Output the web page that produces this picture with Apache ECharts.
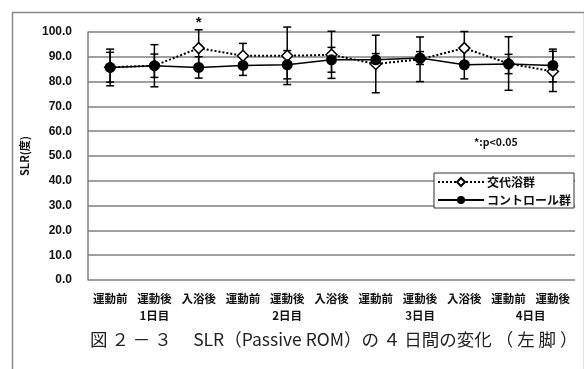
<!DOCTYPE html>
<html>
<head>
<meta charset="utf-8">
<script src="https://cdn.jsdelivr.net/npm/echarts@6/dist/echarts.min.js"></script>
<style>
  html, body { margin: 0; padding: 0; background: #fff; }
  #main { width: 584px; height: 369px; }
</style>
</head>
<body>
<div id="main"></div>
<script>
// データ
const categories = ['運動前', '運動後', '入浴後', '運動前', '運動後', '入浴後', '運動前', '運動後', '入浴後', '運動前', '運動後']
const dayLabels = ['1日目', '2日目', '3日目', '4日目']
const dayPositions = [1, 4, 7, 9.5]
const bathMean = [85.8, 86.4, 93.5, 90.4, 90.4, 90.8, 87.1, 89.0, 93.5, 87.3, 84.1]
const bathSd = [6.0, 4.7, 7.4, 5.0, 11.6, 9.5, 11.6, 9.0, 6.7, 10.8, 8.1]
const ctrlMean = [85.7, 86.4, 85.7, 86.5, 86.8, 88.8, 88.8, 89.5, 86.8, 87.1, 86.5]
const ctrlSd = [7.4, 8.5, 4.3, 4.0, 5.7, 5.0, 2.5, 2.6, 5.7, 3.9, 6.6]
const sigIndex = [2]

const jp = '"Noto Sans CJK JP", sans-serif'

// 誤差範囲 [index, 下限, 上限]
function errData(mean, sd) {
  return mean.map((m, i) => [i, m - sd[i], m + sd[i]])
}

function renderError(params, api) {
  const lo = api.coord([api.value(0), api.value(1)])
  const hi = api.coord([api.value(0), api.value(2)])
  const w = 4
  const style = { stroke: '#000', lineWidth: 1.5 }
  return {
    type: 'group',
    children: [
      { type: 'line', shape: { x1: hi[0], y1: hi[1], x2: lo[0], y2: lo[1] }, style },
      { type: 'line', shape: { x1: hi[0] - w, y1: hi[1], x2: hi[0] + w, y2: hi[1] }, style },
      { type: 'line', shape: { x1: lo[0] - w, y1: lo[1], x2: lo[0] + w, y2: lo[1] }, style },
    ],
  }
}

// 有意差の * 印（誤差棒の上）
function renderStar(params, api) {
  const p = api.coord([api.value(0), api.value(1)])
  return {
    type: 'text',
    x: p[0],
    y: p[1] - 7,
    style: { text: '*', fontSize: 15, fontWeight: 'bold', fill: '#111', align: 'center', verticalAlign: 'middle' },
  }
}

const myChart = echarts.init(document.getElementById('main'))
myChart.setOption({
  animation: false,
  backgroundColor: '#fff',
  grid: { left: 88, top: 32, right: 9, bottom: 89, containLabel: false },
  legend: {
    data: ['交代浴群', 'コントロール群'],
    orient: 'vertical',
    left: 434,
    top: 173,
    itemWidth: 46,
    itemHeight: 10,
    itemGap: 6,
    padding: [3, 3, 2, 3],
    borderColor: '#333',
    borderWidth: 1,
    backgroundColor: '#fff',
    textStyle: { fontFamily: jp, fontSize: 12, fontWeight: 'bold', color: '#111', padding: [0, 0, 0, -2] },
  },
  xAxis: [
    {
      type: 'category',
      data: categories,
      axisLine: { show: false },
      axisTick: { show: false },
      axisLabel: { margin: 13, fontFamily: jp, fontSize: 11.5, fontWeight: 'bold', color: '#111', interval: 0 },
    },
    {
      type: 'value',
      position: 'bottom',
      min: -0.5,
      max: 10.5,
      interval: 0.5,
      axisLine: { show: false },
      axisTick: { show: false },
      splitLine: { show: false },
      axisLabel: {
        margin: 30,
        fontFamily: jp,
        fontSize: 11.5,
        fontWeight: 'bold',
        color: '#111',
        showMinLabel: true,
        showMaxLabel: true,
        formatter: (v) => {
          const k = dayPositions.indexOf(v)
          return k >= 0 ? dayLabels[k] : ''
        },
      },
    },
  ],
  yAxis: {
    type: 'value',
    min: 0,
    max: 100,
    interval: 10,
    name: 'SLR(度)',
    nameLocation: 'middle',
    nameGap: 58,
    nameTextStyle: { fontFamily: jp, fontSize: 11, fontWeight: 'bold', color: '#111' },
    axisLine: { show: true, onZero: false, lineStyle: { color: '#808080', width: 1.5 } },
    axisTick: { show: false },
    axisLabel: {
      margin: 16,
      fontFamily: '"Liberation Sans", Arial, sans-serif',
      fontSize: 12,
      fontWeight: 'bold',
      color: '#111',
      formatter: (v) => v.toFixed(1),
    },
    splitLine: { lineStyle: { color: '#808080', width: 1.5 } },
  },
  graphic: [
    {
      type: 'rect',
      left: 10,
      top: 10,
      z: -10,
      shape: { width: 572, height: 400 },
      style: { fill: 'none', stroke: '#8a8a8a', lineWidth: 1.5 },
    },
    {
      type: 'text',
      left: 474,
      top: 137,
      style: { text: '*:p<0.05', fontFamily: jp, fontSize: 10.5, fontWeight: 'bold', fill: '#111' },
    },
    {
      type: 'text',
      left: 90,
      top: 331,
      style: { text: '図 ２ － ３　 SLR（Passive ROM）の ４ 日間の変化 （ 左 脚 ）', fontFamily: jp, fontSize: 17.5, fill: '#222' },
    },
  ],
  series: [
    {
      type: 'custom',
      renderItem: renderError,
      data: errData(ctrlMean, ctrlSd),
      encode: { x: 0, y: [1, 2] },
      z: 1,
    },
    {
      type: 'custom',
      renderItem: renderError,
      data: errData(bathMean, bathSd),
      encode: { x: 0, y: [1, 2] },
      z: 1,
    },
    {
      type: 'custom',
      renderItem: renderStar,
      clip: false,
      data: sigIndex.map((i) => [i, bathMean[i] + bathSd[i]]),
      encode: { x: 0, y: 1 },
      z: 4,
    },
    {
      name: 'コントロール群',
      type: 'line',
      data: ctrlMean,
      symbol: 'circle',
      symbolSize: 11,
      itemStyle: { color: '#000' },
      lineStyle: { color: '#000', width: 1.5 },
      z: 3,
    },
    {
      name: '交代浴群',
      type: 'line',
      data: bathMean,
      symbol: 'diamond',
      symbolSize: 11,
      itemStyle: { color: '#fff', borderColor: '#000', borderWidth: 1.5 },
      lineStyle: { color: '#000', width: 2, type: 'dotted' },
      z: 2,
    },
  ],
})
</script>
</body>
</html>
